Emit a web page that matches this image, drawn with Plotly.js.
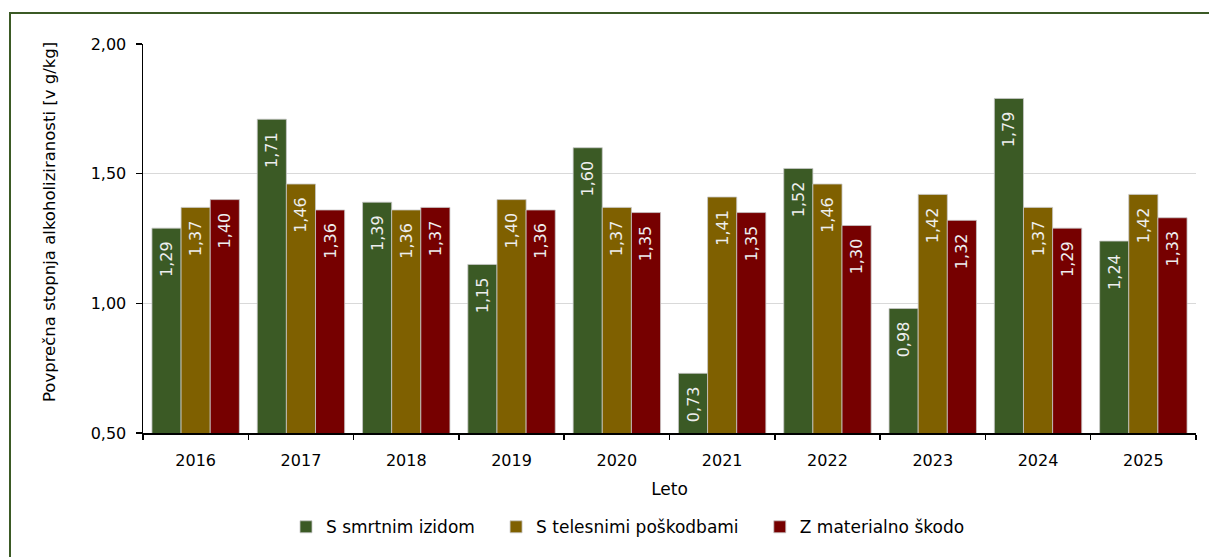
<!DOCTYPE html>
<html>
<head>
<meta charset="utf-8">
<script src="https://cdn.plot.ly/plotly-3.0.1.min.js"></script>
<style>
  html, body { margin: 0; padding: 0; background: #ffffff; }
  #chart { width: 1209px; height: 557px; }
</style>
</head>
<body>
<div id="chart"></div>
<script>
const years = ['2016','2017','2018','2019','2020','2021','2022','2023','2024','2025'];
const smrtnim = [1.29, 1.71, 1.39, 1.15, 1.60, 0.73, 1.52, 0.98, 1.79, 1.24];
const telesnimi = [1.37, 1.46, 1.36, 1.40, 1.37, 1.41, 1.46, 1.42, 1.37, 1.42];
const materialno = [1.40, 1.36, 1.37, 1.36, 1.35, 1.35, 1.30, 1.32, 1.29, 1.33];
const seriesNames = ['S smrtnim izidom', 'S telesnimi poškodbami', 'Z materialno škodo'];
const yTitle = 'Povprečna stopnja alkoholiziranosti [v g/kg]';
const xTitle = 'Leto';
const yTicks = [0.5, 1.0, 1.5, 2.0];

const font = 'Tahoma, "DejaVu Sans", Verdana, sans-serif';
const colors = ['#3b5a25', '#7f6000', '#760000'];
const allSeries = [smrtnim, telesnimi, materialno];
const pad = '\u00a0\u00a0\u00a0';

const traces = allSeries.map((vals, i) => ({
  type: 'bar',
  name: seriesNames[i] + pad,
  x: years,
  y: vals,
  marker: { color: colors[i], line: { color: '#c8c8c8', width: 0.8 } },
  texttemplate: '%{y:.2f}\u00a0\u00a0',
  textposition: 'inside',
  insidetextanchor: 'end',
  textangle: -90,
  constraintext: 'none',
  insidetextfont: { family: font, size: 16, color: '#eeeeee' },
  hoverinfo: 'x+y'
}));

const layout = {
  width: 1209,
  height: 557,
  paper_bgcolor: '#ffffff',
  plot_bgcolor: '#ffffff',
  separators: ',.',
  font: { family: font, color: '#000000' },
  margin: { l: 143, r: 13, t: 44, b: 124 },
  barmode: 'group',
  bargap: 0.17,
  bargroupgap: 0,
  showlegend: true,
  legend: {
    orientation: 'h',
    x: (286 - 143) / 1053, xanchor: 'left',
    y: -0.196, yanchor: 'top',
    font: { family: font, size: 17, color: '#000000' },
    itemwidth: 30,
    traceorder: 'normal'
  },
  xaxis: {
    type: 'category',
    showline: true, linecolor: '#000000', linewidth: 1.5,
    ticks: 'outside', tickson: 'boundaries', ticklen: 5, tickcolor: '#000000', tickwidth: 1.5,
    ticklabelstandoff: 12,
    tickfont: { family: font, size: 16, color: '#000000' },
    title: { text: xTitle, font: { family: font, size: 17, color: '#000000' }, standoff: 14 },
    showgrid: false,
    fixedrange: true
  },
  yaxis: {
    range: [0.5, 2.0],
    tickvals: yTicks,
    tickformat: '.2f',
    showline: true, linecolor: '#000000', linewidth: 1.5,
    ticks: 'outside', ticklen: 6, tickcolor: '#000000', tickwidth: 1.5,
    ticklabelstandoff: 6,
    tickfont: { family: font, size: 16, color: '#000000' },
    showgrid: true, gridcolor: '#d9d9d9', gridwidth: 1.5,
    zeroline: false,
    fixedrange: true
  },
  annotations: [{
    text: yTitle,
    xref: 'paper', yref: 'paper',
    x: (49 - 143) / 1053, y: (433 - 222) / 389,
    xanchor: 'center', yanchor: 'middle',
    textangle: -90,
    showarrow: false,
    font: { family: font, size: 16.5, color: '#000000' }
  }],
  shapes: [{
    type: 'rect', xref: 'paper', yref: 'paper',
    x0: (10 - 143) / 1053, x1: 1.1,
    y0: -0.5, y1: (433 - 13) / 389,
    line: { color: '#3b5a25', width: 2 },
    fillcolor: 'rgba(0,0,0,0)',
    layer: 'below'
  }]
};

Plotly.newPlot('chart', traces, layout, { displayModeBar: false, staticPlot: true });
</script>
</body>
</html>
